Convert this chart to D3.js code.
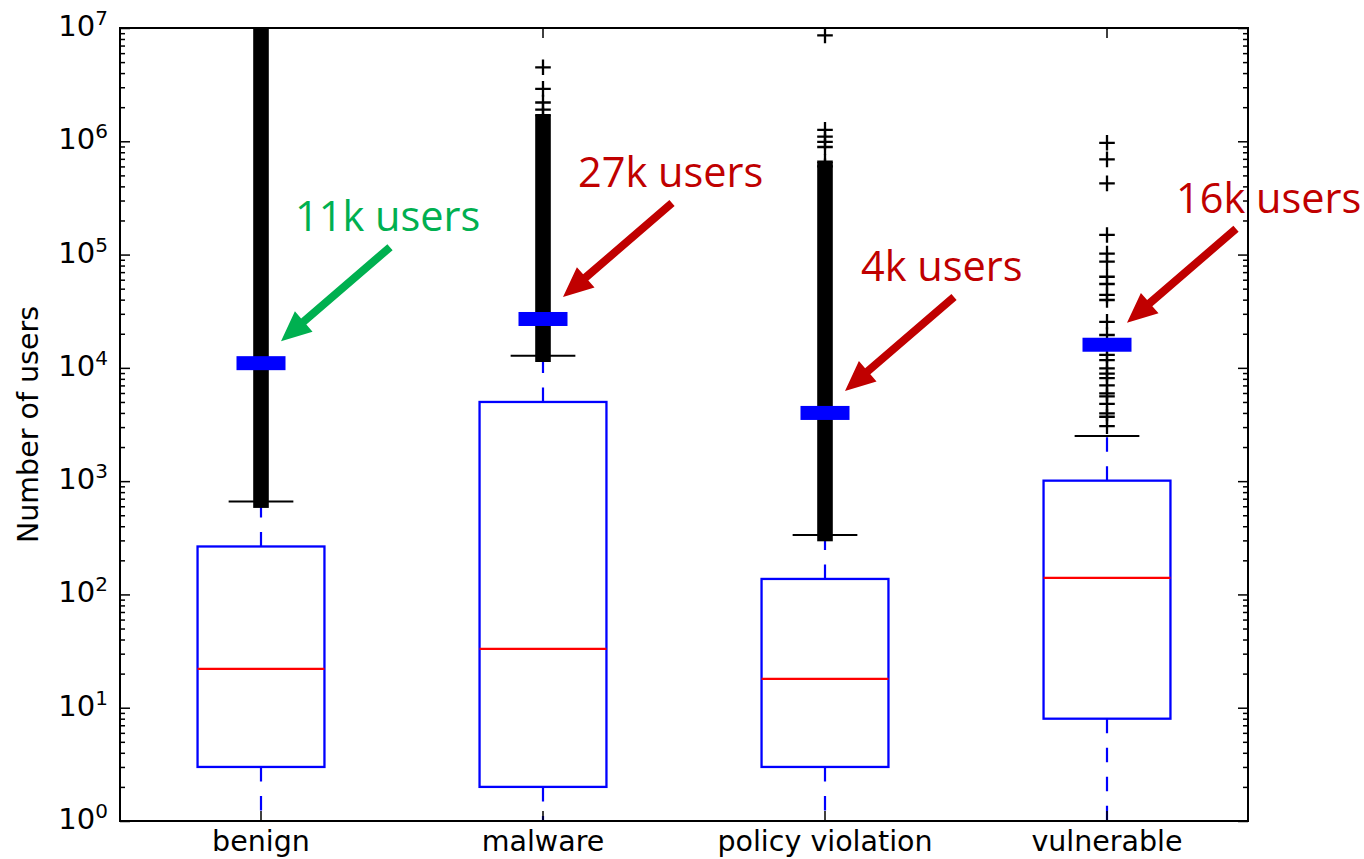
<!DOCTYPE html>
<html>
<head>
<meta charset="utf-8">
<script src="https://cdn.jsdelivr.net/npm/d3@7"></script>
<style>
  body { margin: 0; background: #fff; }
  svg { display: block; }
</style>
</head>
<body>
<svg id="chart" width="1364" height="859"></svg>
<script>
// ---- data ----
const categories = ["benign", "malware", "policy violation", "vulnerable"];
const lowerWhisker = [1, 1, 1, 1];
const q1 = [3, 2, 3, 8];
const medians = [22, 33, 18, 140];
const q3 = [265, 5000, 137, 1010];
const upperWhisker = [660, 12800, 334, 2500];
const means = [11000, 27000, 4000, 16000];
const meanLabels = ["11k users", "27k users", "4k users", "16k users"];

// outlier runs so dense that the markers merge into one column: [lowest, highest]
const denseOutlierRuns = [[680, 1.2e7], [13200, 1.45e6], [345, 5.6e5], null];
// individually visible outliers
const sparseOutliers = [
  [],
  [1.7e6, 1.9e6, 2.2e6, 2.9e6, 4.5e6],
  [6.0e5, 6.6e5, 8.9e5, 9.9e5, 1.1e6, 1.26e6, 8.6e6],
  [3060, 3700, 3960, 4800, 5600, 5960, 7000, 8100, 8900, 9900, 11700, 13000,
   19500, 25500, 39700, 44000, 55000, 63700, 86500, 102000, 149000, 425000, 692000, 970000]
];
const majorTicks = [1, 10, 100, 1000, 10000, 100000, 1000000, 10000000];
const tickExponents = ["0", "1", "2", "3", "4", "5", "6", "7"];
const yAxisTitle = "Number of users";

// ---- layout ----
const plot = { left: 120, right: 1248, top: 28, bottom: 821 };
const BLUE = "#0000ff", RED = "#ff0000";
const labelColors = ["#00b050", "#c00000", "#c00000", "#c00000"];
const FONT = "'DejaVu Sans', sans-serif";
const ANNOT_FONT = "'Open Sans', 'Noto Sans', sans-serif";

const svg = d3.select("#chart");

const y = d3.scaleLog().domain([1, 1e7]).range([plot.bottom, plot.top]);
const x = d3.scaleBand().domain(categories).range([plot.left, plot.right]);
const cx = c => x(c) + x.bandwidth() / 2;
const boxW = x.bandwidth() * 0.45;
const capHalf = boxW * 0.255;
const plusHalf = 7.8;

svg.append("defs").append("clipPath").attr("id", "plotClip")
  .append("rect")
  .attr("x", plot.left).attr("y", plot.top)
  .attr("width", plot.right - plot.left).attr("height", plot.bottom - plot.top);

const g = svg.append("g").attr("clip-path", "url(#plotClip)");

const rows = categories.map((c, i) => ({
  c, lo: lowerWhisker[i], q1: q1[i], med: medians[i], q3: q3[i], hi: upperWhisker[i],
  mean: means[i], dense: denseOutlierRuns[i], sparse: sparseOutliers[i]
}));

// whiskers
rows.forEach(d => {
  [[d.q1, d.lo], [d.q3, d.hi]].forEach(([a, b]) => {
    g.append("line")
      .attr("x1", cx(d.c)).attr("x2", cx(d.c))
      .attr("y1", y(a)).attr("y2", y(b))
      .attr("stroke", BLUE).attr("stroke-width", 2.2)
      .attr("stroke-dasharray", "14.5,14.5");
  });
});

// caps
rows.forEach(d => {
  [d.lo, d.hi].forEach(v => {
    g.append("line")
      .attr("x1", cx(d.c) - capHalf).attr("x2", cx(d.c) + capHalf)
      .attr("y1", y(v)).attr("y2", y(v))
      .attr("stroke", "#000").attr("stroke-width", 2);
  });
});

// boxes
g.selectAll("rect.box").data(rows).join("rect")
  .attr("class", "box")
  .attr("x", d => cx(d.c) - boxW / 2)
  .attr("width", boxW)
  .attr("y", d => y(d.q3))
  .attr("height", d => y(d.q1) - y(d.q3))
  .attr("fill", "none").attr("stroke", BLUE).attr("stroke-width", 2.3);

// medians
g.selectAll("line.median").data(rows).join("line")
  .attr("class", "median")
  .attr("x1", d => cx(d.c) - boxW / 2).attr("x2", d => cx(d.c) + boxW / 2)
  .attr("y1", d => y(d.med)).attr("y2", d => y(d.med))
  .attr("stroke", RED).attr("stroke-width", 2.2);

// dense outlier columns
g.selectAll("rect.dense").data(rows.filter(d => d.dense)).join("rect")
  .attr("class", "dense")
  .attr("x", d => cx(d.c) - plusHalf)
  .attr("width", plusHalf * 2)
  .attr("y", d => y(d.dense[1]) - plusHalf)
  .attr("height", d => y(d.dense[0]) - y(d.dense[1]) + plusHalf * 2)
  .attr("fill", "#000");

// individual outliers as "+" markers
const plusPath = `M${-plusHalf},0H${plusHalf}M0,${-plusHalf}V${plusHalf}`;
rows.forEach(d => {
  g.selectAll(null).data(d.sparse).join("path")
    .attr("d", plusPath)
    .attr("transform", v => `translate(${cx(d.c)},${y(v)})`)
    .attr("fill", "none").attr("stroke", "#000").attr("stroke-width", 2.3);
});

// mean markers
g.selectAll("rect.mean").data(rows).join("rect")
  .attr("class", "mean")
  .attr("x", d => cx(d.c) - 24.5).attr("width", 49)
  .attr("y", d => y(d.mean) - 7).attr("height", 14)
  .attr("fill", BLUE);

// ---- axes ----
const minorTicks = [];
for (let e = 0; e < 7; e++) for (let m = 2; m <= 9; m++) minorTicks.push(m * Math.pow(10, e));

function yAxis(side, values, len) {
  const ax = (side === "left" ? d3.axisLeft(y) : d3.axisRight(y))
    .tickValues(values).tickSizeInner(-len).tickSizeOuter(0).tickFormat("");
  const gg = svg.append("g")
    .attr("transform", `translate(${side === "left" ? plot.left : plot.right},0)`)
    .call(ax);
  gg.select(".domain").remove();
  gg.selectAll(".tick line").attr("stroke", "#000").attr("stroke-width", 1.5);
}
yAxis("left", majorTicks, 10);
yAxis("left", minorTicks, 5);
yAxis("right", majorTicks, 10);
yAxis("right", minorTicks, 5);

function xAxis(side) {
  const ax = (side === "bottom" ? d3.axisBottom(x) : d3.axisTop(x))
    .tickSizeInner(-10).tickSizeOuter(0).tickFormat("");
  const gg = svg.append("g")
    .attr("transform", `translate(0,${side === "bottom" ? plot.bottom : plot.top})`)
    .call(ax);
  gg.select(".domain").remove();
  gg.selectAll(".tick line").attr("stroke", "#000").attr("stroke-width", 1.5);
}
xAxis("bottom");
xAxis("top");

// frame
svg.append("rect")
  .attr("x", plot.left).attr("y", plot.top)
  .attr("width", plot.right - plot.left).attr("height", plot.bottom - plot.top)
  .attr("fill", "none").attr("stroke", "#000").attr("stroke-width", 2);

// y tick labels: 10^n
majorTicks.forEach((v, i) => {
  const t = svg.append("text")
    .attr("x", plot.left - 12).attr("y", y(v) + 8)
    .attr("text-anchor", "end")
    .attr("font-family", FONT).attr("font-size", 29).attr("fill", "#000");
  t.append("tspan").text("10");
  t.append("tspan").attr("dy", -11).attr("font-size", 20).text(tickExponents[i]);
});

// x tick labels
svg.selectAll("text.xlab").data(categories).join("text")
  .attr("class", "xlab")
  .attr("x", d => cx(d)).attr("y", 851)
  .attr("text-anchor", "middle")
  .attr("font-family", FONT).attr("font-size", 28.5).attr("fill", "#000")
  .text(d => d);

// y axis title
svg.append("text")
  .attr("transform", `translate(38,${(plot.top + plot.bottom) / 2}) rotate(-90)`)
  .attr("text-anchor", "middle")
  .attr("font-family", FONT).attr("font-size", 28.5).attr("fill", "#000")
  .text(yAxisTitle);

// ---- annotations: label + arrow pointing at each mean marker ----
const tipOffset = { dx: 20, dy: -22 };
const tailOffset = { dx: 109, dy: -94 };
const labelShift = [14, 15, 16, 49];   // horizontal offset of each label from its arrow tip
const labelRise = -110;

function arrowPoints(tx, ty, px, py) {
  const L = Math.hypot(px - tx, py - ty);
  const ux = (px - tx) / L, uy = (py - ty) / L;
  const nx = -uy, ny = ux;
  const sw = 4, hl = 30, hw = 13.5;
  const bx = px - ux * hl, by = py - uy * hl;
  return [
    [tx + nx * sw, ty + ny * sw], [bx + nx * sw, by + ny * sw], [bx + nx * hw, by + ny * hw],
    [px, py],
    [bx - nx * hw, by - ny * hw], [bx - nx * sw, by - ny * sw], [tx - nx * sw, ty - ny * sw]
  ];
}

rows.forEach((d, i) => {
  const px = cx(d.c) + tipOffset.dx, py = y(d.mean) + tipOffset.dy;
  const tx = px + tailOffset.dx, ty = py + tailOffset.dy;
  svg.append("polygon")
    .attr("points", arrowPoints(tx, ty, px, py).map(p => p.join(",")).join(" "))
    .attr("fill", labelColors[i]);
  svg.append("text")
    .attr("x", px + labelShift[i]).attr("y", py + labelRise)
    .attr("font-family", ANNOT_FONT).attr("font-size", 41.5)
    .attr("fill", labelColors[i])
    .text(meanLabels[i]);
});
</script>
</body>
</html>
